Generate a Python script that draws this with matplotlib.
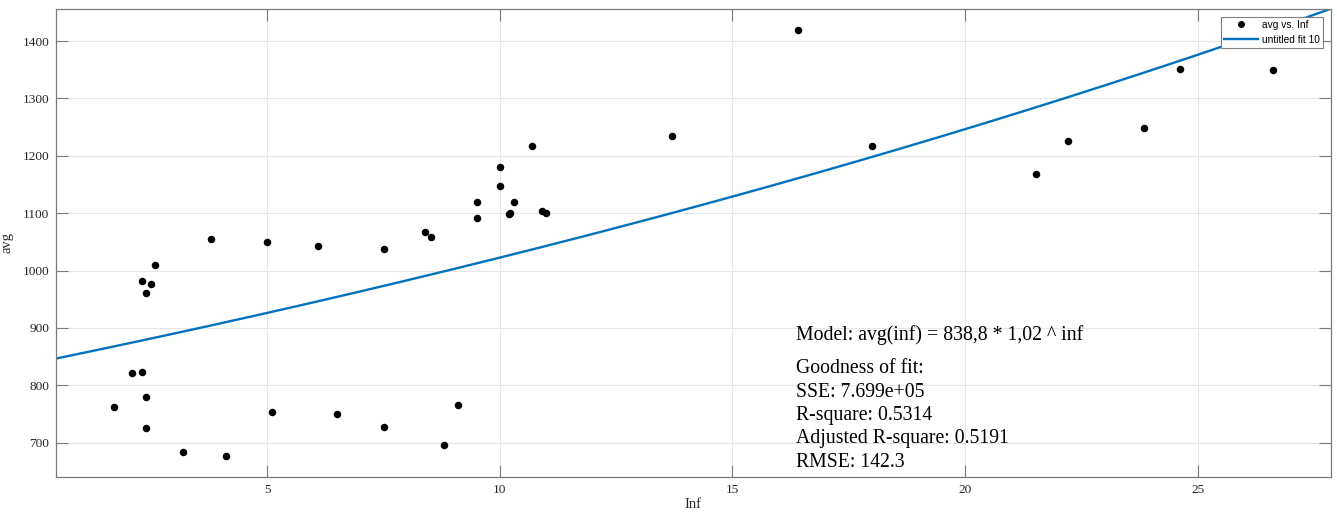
import numpy as np
import matplotlib
matplotlib.use("Agg")
import matplotlib.pyplot as plt
from matplotlib.lines import Line2D

# Observations: Inf vs avg
inf_vals = [1.71, 2.10, 2.31, 2.31, 2.40, 2.40, 2.40, 2.51, 2.59, 3.19,
            3.80, 4.12, 5.00, 5.10, 6.10, 6.50, 7.50, 7.50, 8.40, 8.51,
            8.81, 9.11, 9.52, 9.52, 10.01, 10.01, 10.20, 10.22, 10.31, 10.70,
            10.91, 11.00, 13.71, 16.40, 18.01, 21.52, 22.22, 23.84, 24.61, 26.61]
avg_vals = [762, 821, 823, 981, 960, 780, 726, 976, 1010, 684,
            1055, 677, 1050, 753, 1043, 749, 1038, 727, 1067, 1059,
            695, 765, 1119, 1091, 1180, 1148, 1099, 1101, 1120, 1217,
            1104, 1100, 1235, 1419, 1217, 1168, 1226, 1248, 1352, 1349]

# Exponential fit: avg = a * b^inf
fit_a = 838.8
fit_b = 1.02

x_ticks = [5, 10, 15, 20, 25]
y_ticks = [700, 800, 900, 1000, 1100, 1200, 1300, 1400]
x_range = (0.46, 27.86)
y_range = (640.5, 1456)

stats_lines = ["Goodness of fit:", "SSE: 7.699e+05", "R-square: 0.5314",
               "Adjusted R-square: 0.5191", "RMSE: 142.3"]

serif = ["Liberation Serif", "DejaVu Serif"]

fig = plt.figure(figsize=(13.37, 5.13), dpi=100)
ax = fig.add_axes([56 / 1337, 1 - 476.7 / 513, 1274.7 / 1337, 467.7 / 513])

xs = np.linspace(x_range[0], x_range[1], 400)
ax.plot(inf_vals, avg_vals, ls="none", marker="o", ms=4.4, color="black",
        zorder=3)
ax.plot(xs, fit_a * fit_b ** xs, color="#0072BD", lw=1.7, zorder=2)

ax.set_xlim(*x_range)
ax.set_ylim(*y_range)
ax.set_xticks(x_ticks)
ax.set_yticks(y_ticks)
ax.grid(True, color="#e6e6e6", lw=0.8)
ax.set_axisbelow(True)

ax.tick_params(direction="in", length=8.6, width=0.8, color="#7a7a7a",
               top=True, right=True, labelsize=9.6, pad=5)
for lab in ax.get_xticklabels() + ax.get_yticklabels():
    lab.set_family(serif)
    lab.set_color("#262626")
for sp in ax.spines.values():
    sp.set_color("#7a7a7a")
    sp.set_linewidth(0.9)

ax.set_xlabel("Inf", family=serif, fontsize=10.5, color="#262626", labelpad=2)
ax.set_ylabel("avg", family=serif, fontsize=10.5, color="#262626", labelpad=6)

# Fit summary
ax.text(0.5805, 0.2923, "Model: avg(inf) = 838,8 * 1,02 ^ inf",
        transform=ax.transAxes, family=serif, fontsize=14.2, va="baseline")
stat_y = [0.2211, 0.1711, 0.1212, 0.0714, 0.0214]
for s, yy in zip(stats_lines, stat_y):
    ax.text(0.5805, yy, s, transform=ax.transAxes, family=serif,
            fontsize=14.2, va="baseline")

handles = [
    Line2D([], [], ls="none", marker="o", ms=4.0, color="black"),
    Line2D([], [], color="#0072BD", lw=1.7),
]
leg = ax.legend(handles, ["avg vs. Inf", "untitled fit 10"],
                loc="upper right", bbox_to_anchor=(0.9937, 0.9829),
                prop={"family": ["Liberation Sans Narrow", "Liberation Sans"],
                      "size": 7.3},
                fancybox=False, framealpha=1, edgecolor="#808080",
                borderpad=0.3, labelspacing=0.45, handlelength=3.3,
                handletextpad=0.4, borderaxespad=0)
leg.get_frame().set_linewidth(0.8)

fig.savefig("out.png", dpi=100)
